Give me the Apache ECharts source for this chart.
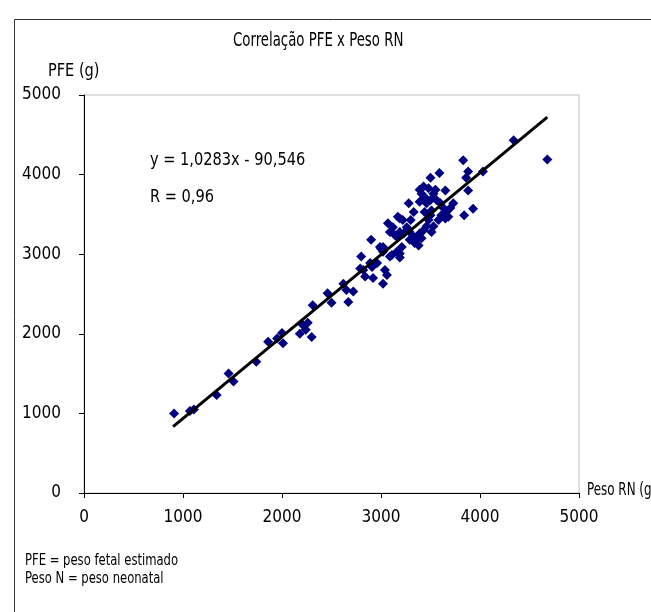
<!DOCTYPE html>
<html><head><meta charset="utf-8">
<script src="https://cdn.jsdelivr.net/npm/echarts@6/dist/echarts.min.js"></script>
<style>html,body{margin:0;padding:0;background:#fff}#c{width:651px;height:612px}</style>
</head><body><div id="c"></div>
<script>
const FONT = '"DejaVu Sans Condensed","Liberation Sans Narrow","DejaVu Sans",sans-serif';
const titleText = 'Correlação PFE x Peso RN';
const xAxisName = 'Peso RN (g)';
const yAxisName = 'PFE (g)';
const equationText = 'y = 1,0283x - 90,546';
const rText = 'R = 0,96';
const footnotes = ['PFE = peso fetal estimado', 'Peso N = peso neonatal'];
const xTicks = [0, 1000, 2000, 3000, 4000, 5000];
const yTicks = [0, 1000, 2000, 3000, 4000, 5000];
const trendSlope = 1.0283;
const trendIntercept = -90.546;
const trendRange = [900, 4680];

const pesoRN = [910,1070,1110,1340,1460,1510,1740,1860,1950,2000,2010,2180,2210,2260,2240,2300,2310,2460,2500,2620,2650,2720,2670,2790,2840,2920,2800,2890,2960,2820,2910,3040,3060,3020,2900,2990,3020,3090,3160,3190,3000,3110,3190,
3070,3120,3170,3220,3260,3190,3140,3290,3330,3360,3380,3390,3430,3460,3480,3500,3510,3460,3430,3440,3390,3430,3480,3530,3560,3600,3630,3660,3680,3700,3650,3580,3530,3510,3410,3340,3290,3210,3020,3090,3160,3230,3280,3390,3500,3330,3440,3610,3730,3550,3650,3500,3590,3830,3880,3860,4030,3880,3930,3840,3410,4340,4680,3300,3190];
const pfe = [1000,1030,1050,1230,1500,1400,1650,1900,1940,2010,1880,2000,2110,2140,2050,1960,2360,2510,2390,2630,2550,2530,2400,2820,2720,2700,2970,2890,2890,2800,2840,2800,2740,2630,3180,3090,3030,2970,3030,2960,3070,2990,3010,
3390,3340,3470,3430,3340,3280,3240,3280,3220,3180,3110,3260,3300,3350,3430,3490,3550,3640,3680,3720,3810,3850,3830,3760,3680,3640,3580,3530,3470,3580,3450,3430,3350,3280,3200,3140,3180,3090,3090,3280,3220,3260,3640,3660,3680,3530,3530,3490,3640,3810,3800,3960,4020,4180,4040,3960,4040,3800,3570,3490,3760,4430,4190,3430,3450];

const points = pesoRN.map((x, i) => [x, pfe[i]]);
const trend = trendRange.map(x => [x, trendSlope * x + trendIntercept]);

const chart = echarts.init(document.getElementById('c'));
chart.setOption({
  animation: false,
  backgroundColor: '#fff',
  grid: { left: 84, top: 95, right: 72, bottom: 119, show: true, borderColor: '#c0c0c0', borderWidth: 1, backgroundColor: '#fff', containLabel: false, outerBoundsMode: 'none' },
  xAxis: {
    type: 'value', min: xTicks[0], max: xTicks[xTicks.length - 1], interval: 1000,
    axisLine: { show: true, onZero: false, lineStyle: { color: '#000', width: 1 } },
    axisTick: { show: true, inside: false, length: 5, lineStyle: { color: '#000' } },
    axisLabel: { margin: 16, fontFamily: FONT, fontSize: 17, color: '#000', formatter: v => String(v) },
    splitLine: { show: false }
  },
  yAxis: {
    type: 'value', min: yTicks[0], max: yTicks[yTicks.length - 1], interval: 1000,
    axisLine: { show: true, onZero: false, lineStyle: { color: '#000', width: 1 } },
    axisTick: { show: true, inside: false, length: 5, lineStyle: { color: '#000' } },
    axisLabel: { margin: 23, fontFamily: FONT, fontSize: 17, color: '#000', formatter: v => String(v) },
    splitLine: { show: false }
  },
  graphic: [
    { type: 'rect', left: 12, top: 17, shape: { width: 700, height: 700 }, style: { fill: 'none', stroke: '#333', lineWidth: 1 }, z: -10 },
    { type: 'text', x: 233, y: 31, scaleX: 0.74, style: { text: titleText, font: '20px ' + FONT, fill: '#000' } },
    { type: 'text', x: 48, y: 63, scaleX: 0.95, style: { text: yAxisName, font: '17px ' + FONT, fill: '#000' } },
    { type: 'text', x: 587, y: 482, scaleX: 0.78, style: { text: xAxisName, font: '17px ' + FONT, fill: '#000' } },
    { type: 'text', x: 150, y: 151, scaleX: 0.9, style: { text: equationText, font: '18px ' + FONT, fill: '#000' } },
    { type: 'text', x: 150, y: 188, scaleX: 0.9, style: { text: rText, font: '18px ' + FONT, fill: '#000' } },
    { type: 'text', x: 25, y: 554, scaleX: 0.86, style: { text: footnotes[0], font: '15px ' + FONT, fill: '#000' } },
    { type: 'text', x: 25, y: 572, scaleX: 0.86, style: { text: footnotes[1], font: '15px ' + FONT, fill: '#000' } }
  ],
  series: [
    { type: 'scatter', data: points, symbol: 'diamond', symbolSize: 10, itemStyle: { color: '#000080', opacity: 1 }, z: 2 },
    { type: 'line', data: trend, symbol: 'none', lineStyle: { color: '#000', width: 3 }, z: 3 }
  ]
});
</script></body></html>
